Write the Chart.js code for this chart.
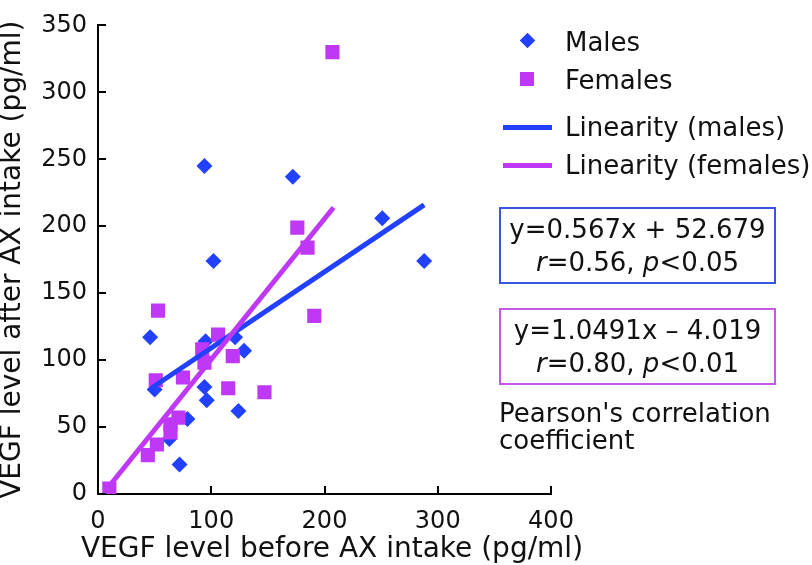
<!DOCTYPE html>
<html lang="en">
<head>
<meta charset="UTF-8">
<title>VEGF before / after AX intake</title>
<script src="https://cdn.jsdelivr.net/npm/chart.js"></script>
<style>
  body { margin: 0; background: #fff; font-family: "DejaVu Sans", Verdana, sans-serif; }
  #wrap { position: relative; width: 812px; height: 565px; }
  #chart { position: absolute; left: 0; top: 0; }
  .txt { position: absolute; font-size: 26px; color: #111; white-space: nowrap; line-height: 30px; }
  .mark { position: absolute; }
  .box { position: absolute; border: 2px solid; text-align: center; font-size: 26px; line-height: 33px; color: #111; box-sizing: border-box; padding-top: 4px; white-space: nowrap; }
  #xtitle { position: absolute; left: 32px; width: 600px; top: 533px; text-align: center; font-size: 28px; line-height: 30px; color: #111; white-space: nowrap; }
</style>
</head>
<body>
<div id="wrap">
  <canvas id="chart" width="812" height="565"></canvas>
  <div id="xtitle">VEGF level before AX intake (pg/ml)</div>

  <div class="mark" style="left:522px;top:35px;width:11px;height:11px;background:#2140ff;transform:rotate(45deg)"></div>
  <div class="txt" style="left:565px;top:27px">Males</div>
  <div class="mark" style="left:520px;top:72px;width:14px;height:14px;background:#bf38f5"></div>
  <div class="txt" style="left:565px;top:65px">Females</div>
  <div class="mark" style="left:503px;top:125px;width:49px;height:5px;background:#2140ff"></div>
  <div class="txt" style="left:565px;top:112px">Linearity (males)</div>
  <div class="mark" style="left:503px;top:163px;width:49px;height:5px;background:#bf38f5"></div>
  <div class="txt" style="left:565px;top:150px">Linearity (females)</div>

  <div class="box" style="left:499px;top:207px;width:277px;height:77px;border-color:#3a55e0">
    y=0.567x + 52.679<br><i>r</i>=0.56, <i>p</i>&lt;0.05
  </div>
  <div class="box" style="left:499px;top:308px;width:277px;height:77px;border-color:#c45ae6">
    y=1.0491x &ndash; 4.019<br><i>r</i>=0.80, <i>p</i>&lt;0.01
  </div>
  <div class="txt" style="left:499px;top:400px;line-height:27px">Pearson's correlation<br>coefficient</div>
</div>

<script>
const malesX = [94, 172, 102, 251, 288, 46, 95, 121, 129, 50, 94, 96, 124, 79, 63, 72];
const malesY = [245, 237, 174, 206, 174, 117, 114, 117, 107, 78, 80, 70, 62, 56, 41, 22];

const femalesX = [207, 176, 185, 191, 53, 106, 92, 119, 94, 51, 75, 115, 147, 71, 64, 64, 52, 44, 10];
const femalesY = [330, 199, 184, 133, 137, 119, 108, 103, 98, 85, 87, 79, 76, 57, 52, 46, 37, 29, 4];

// fitted lines, end points
const maleLineX = [47, 288];
const maleLineY = [79, 216];
const femaleLineX = [10, 208];
const femaleLineY = [6, 214];

const xTicks = [0, 100, 200, 300, 400];
const yTicks = [0, 50, 100, 150, 200, 250, 300, 350];

const BLUE = "#2140ff";
const MAGENTA = "#bf38f5";
const FONT = "'DejaVu Sans', Verdana, sans-serif";

function pts(xs, ys) {
  return xs.map((x, i) => ({ x: x, y: ys[i] }));
}

// ticks pointing into the plot
const innerTicks = {
  id: "innerTicks",
  afterDraw(chart) {
    const ctx = chart.ctx;
    const xs = chart.scales.x, ys = chart.scales.y;
    const area = chart.chartArea;
    ctx.save();
    ctx.strokeStyle = "#000";
    ctx.lineWidth = 2;
    ctx.beginPath();
    xTicks.forEach(v => {
      const px = Math.round(xs.getPixelForValue(v));
      ctx.moveTo(px, area.bottom);
      ctx.lineTo(px, area.bottom - 8);
    });
    yTicks.forEach(v => {
      const py = Math.round(ys.getPixelForValue(v));
      ctx.moveTo(area.left, py);
      ctx.lineTo(area.left + 8, py);
    });
    ctx.stroke();
    ctx.restore();
  }
};

new Chart(document.getElementById("chart"), {
  type: "scatter",
  data: {
    datasets: [
      {
        label: "Linearity (females)",
        data: pts(femaleLineX, femaleLineY),
        showLine: true,
        borderColor: MAGENTA,
        borderWidth: 5,
        pointRadius: 0,
        order: 0
      },
      {
        label: "Linearity (males)",
        data: pts(maleLineX, maleLineY),
        showLine: true,
        borderColor: BLUE,
        borderWidth: 5,
        pointRadius: 0,
        order: 1
      },
      {
        label: "Females",
        data: pts(femalesX, femalesY),
        pointStyle: "rect",
        pointRadius: 10,
        backgroundColor: MAGENTA,
        borderWidth: 0,
        order: 2
      },
      {
        label: "Males",
        data: pts(malesX, malesY),
        pointStyle: "rectRot",
        pointRadius: 8,
        backgroundColor: BLUE,
        borderWidth: 0,
        order: 3
      }
    ]
  },
  options: {
    responsive: false,
    animation: false,
    layout: { padding: { top: 10, right: 261, left: 0, bottom: 0 } },
    plugins: {
      legend: { display: false },
      tooltip: { enabled: false }
    },
    scales: {
      x: {
        type: "linear",
        min: 0,
        max: 400,
        afterBuildTicks: s => { s.ticks = xTicks.map(v => ({ value: v })); },
        afterFit: s => { s.height = 71; },
        grid: { display: false, drawTicks: false },
        border: { color: "#000", width: 2 },
        ticks: { color: "#111", padding: 13, font: { family: FONT, size: 24 } },
        title: { display: false }
      },
      y: {
        type: "linear",
        min: 0,
        max: 350,
        afterBuildTicks: s => { s.ticks = yTicks.map(v => ({ value: v })); },
        afterFit: s => { s.width = 98; },
        grid: { display: false, drawTicks: false },
        border: { color: "#000", width: 2 },
        ticks: { color: "#111", padding: 11, font: { family: FONT, size: 24 } },
        title: {
          display: true,
          text: "VEGF level after AX intake (pg/ml)",
          color: "#111",
          padding: { top: -1, bottom: 0 },
          font: { family: FONT, size: 28, lineHeight: 1 }
        }
      }
    }
  },
  plugins: [innerTicks]
});
</script>
</body>
</html>
